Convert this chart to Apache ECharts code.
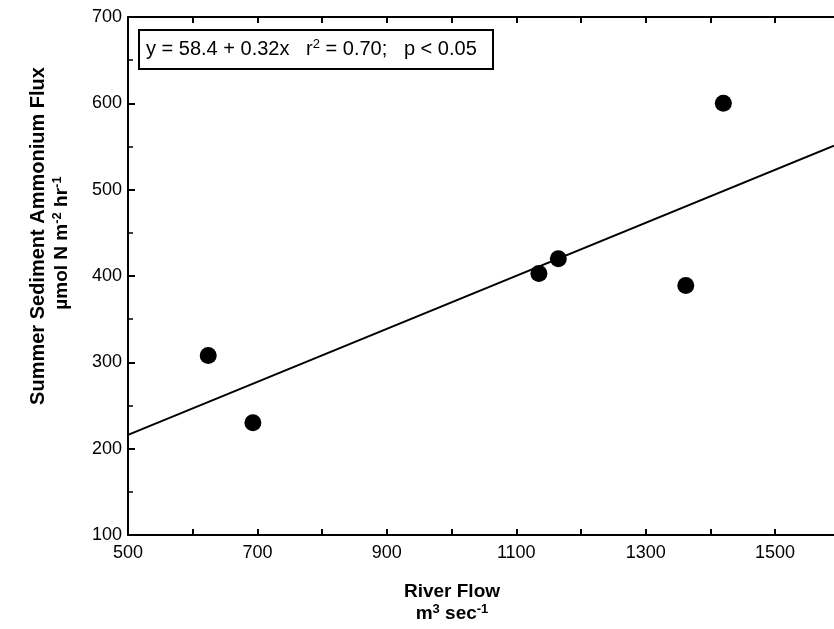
<!DOCTYPE html>
<html>
<head>
<meta charset="utf-8">
<script src="https://cdn.jsdelivr.net/npm/echarts@6/dist/echarts.min.js"></script>
<style>
  html, body { margin: 0; padding: 0; background: #fff; }
  #chart { width: 834px; height: 629px; }
</style>
</head>
<body>
<div id="chart"></div>
<script>
// river flow (m3/s) vs summer sediment ammonium flux
const flow = [624, 693, 1135, 1165, 1362, 1420];
const flux = [308, 230, 403, 420, 389, 600];
// fitted line, read at both ends of the visible axis
const fitFlow = [500, 1591];
const fitFlux = [216, 551];
const xLabels = [500, 700, 900, 1100, 1300, 1500];
const xTicks = [500, 600, 700, 800, 900, 1000, 1100, 1200, 1300, 1400, 1500];

const font = 'Liberation Sans, Arial, sans-serif';
const chart = echarts.init(document.getElementById('chart'));

const lineStyle = { color: '#000', width: 2 };

// x axis is cut by the picture's right edge, just short of 1600
const xBase = {
  type: 'value', min: 500, max: 1591,
  axisLine: { show: true, lineStyle },
  axisTick: { show: true, inside: true, length: 6, customValues: xTicks, lineStyle },
  splitLine: { show: false },
};

chart.setOption({
  animation: false,
  backgroundColor: '#fff',
  grid: { left: 128, right: 0, top: 17, bottom: 94, containLabel: false },
  xAxis: [
    Object.assign({
      axisLabel: {
        color: '#000', fontFamily: font, fontSize: 18, margin: 9,
        customValues: xLabels, formatter: v => String(v)
      },
    }, xBase),
    Object.assign({
      position: 'top',
      axisLabel: { show: false },
    }, xBase),
  ],
  yAxis: [{
    type: 'value', min: 100, max: 700, interval: 100,
    axisLine: { show: true, lineStyle },
    axisTick: { show: true, inside: true, length: 7, lineStyle },
    minorTick: { show: true, splitNumber: 2, length: 5, lineStyle: { color: '#000', width: 1.5 } },
    splitLine: { show: false },
    axisLabel: { color: '#000', fontFamily: font, fontSize: 18, margin: 6 },
  }],
  graphic: [
    {
      type: 'rect', left: 138, top: 29,
      shape: { width: 354, height: 39 },
      style: { fill: '#fff', stroke: '#000', lineWidth: 2 },
      z: 10
    },
    {
      type: 'text', left: 146, top: 38, z: 11,
      style: {
        text: '{t|y = 58.4 + 0.32x   r}{s|2}{t| = 0.70;   p < 0.05}',
        rich: {
          t: { fontFamily: font, fontSize: 20, color: '#000', lineHeight: 21, verticalAlign: 'bottom' },
          s: { fontFamily: font, fontSize: 13, color: '#000', lineHeight: 21, verticalAlign: 'top' }
        }
      }
    },
    {
      type: 'text', x: 38, y: 236, rotation: Math.PI / 2, z: 11,
      style: {
        text: 'Summer Sediment Ammonium Flux',
        fontFamily: font, fontSize: 20, fontWeight: 'bold', fill: '#000',
        align: 'center', verticalAlign: 'middle'
      }
    },
    {
      type: 'text', x: 61, y: 243, rotation: Math.PI / 2, z: 11,
      style: {
        text: '{t|µmol N m}{s|-2}{t| hr}{s|-1}',
        align: 'center', verticalAlign: 'middle',
        rich: {
          t: { fontFamily: font, fontSize: 19, fontWeight: 'bold', color: '#000', lineHeight: 20, verticalAlign: 'bottom' },
          s: { fontFamily: font, fontSize: 13, fontWeight: 'bold', color: '#000', lineHeight: 20, verticalAlign: 'top' }
        }
      }
    },
    {
      type: 'text', x: 452, y: 592, z: 11,
      style: {
        text: 'River Flow',
        fontFamily: font, fontSize: 19, fontWeight: 'bold', fill: '#000',
        align: 'center', verticalAlign: 'middle'
      }
    },
    {
      type: 'text', x: 452, y: 613, z: 11,
      style: {
        text: '{t|m}{s|3}{t| sec}{s|-1}',
        align: 'center', verticalAlign: 'middle',
        rich: {
          t: { fontFamily: font, fontSize: 19, fontWeight: 'bold', color: '#000', lineHeight: 20, verticalAlign: 'bottom' },
          s: { fontFamily: font, fontSize: 13, fontWeight: 'bold', color: '#000', lineHeight: 20, verticalAlign: 'top' }
        }
      }
    }
  ],
  series: [
    {
      type: 'line',
      data: fitFlow.map((f, i) => [f, fitFlux[i]]),
      symbol: 'none',
      lineStyle: { color: '#000', width: 2 },
      silent: true
    },
    {
      type: 'scatter',
      data: flow.map((f, i) => [f, flux[i]]),
      symbol: 'circle',
      symbolSize: 17,
      itemStyle: { color: '#000', opacity: 1 }
    }
  ]
});
</script>
</body>
</html>
